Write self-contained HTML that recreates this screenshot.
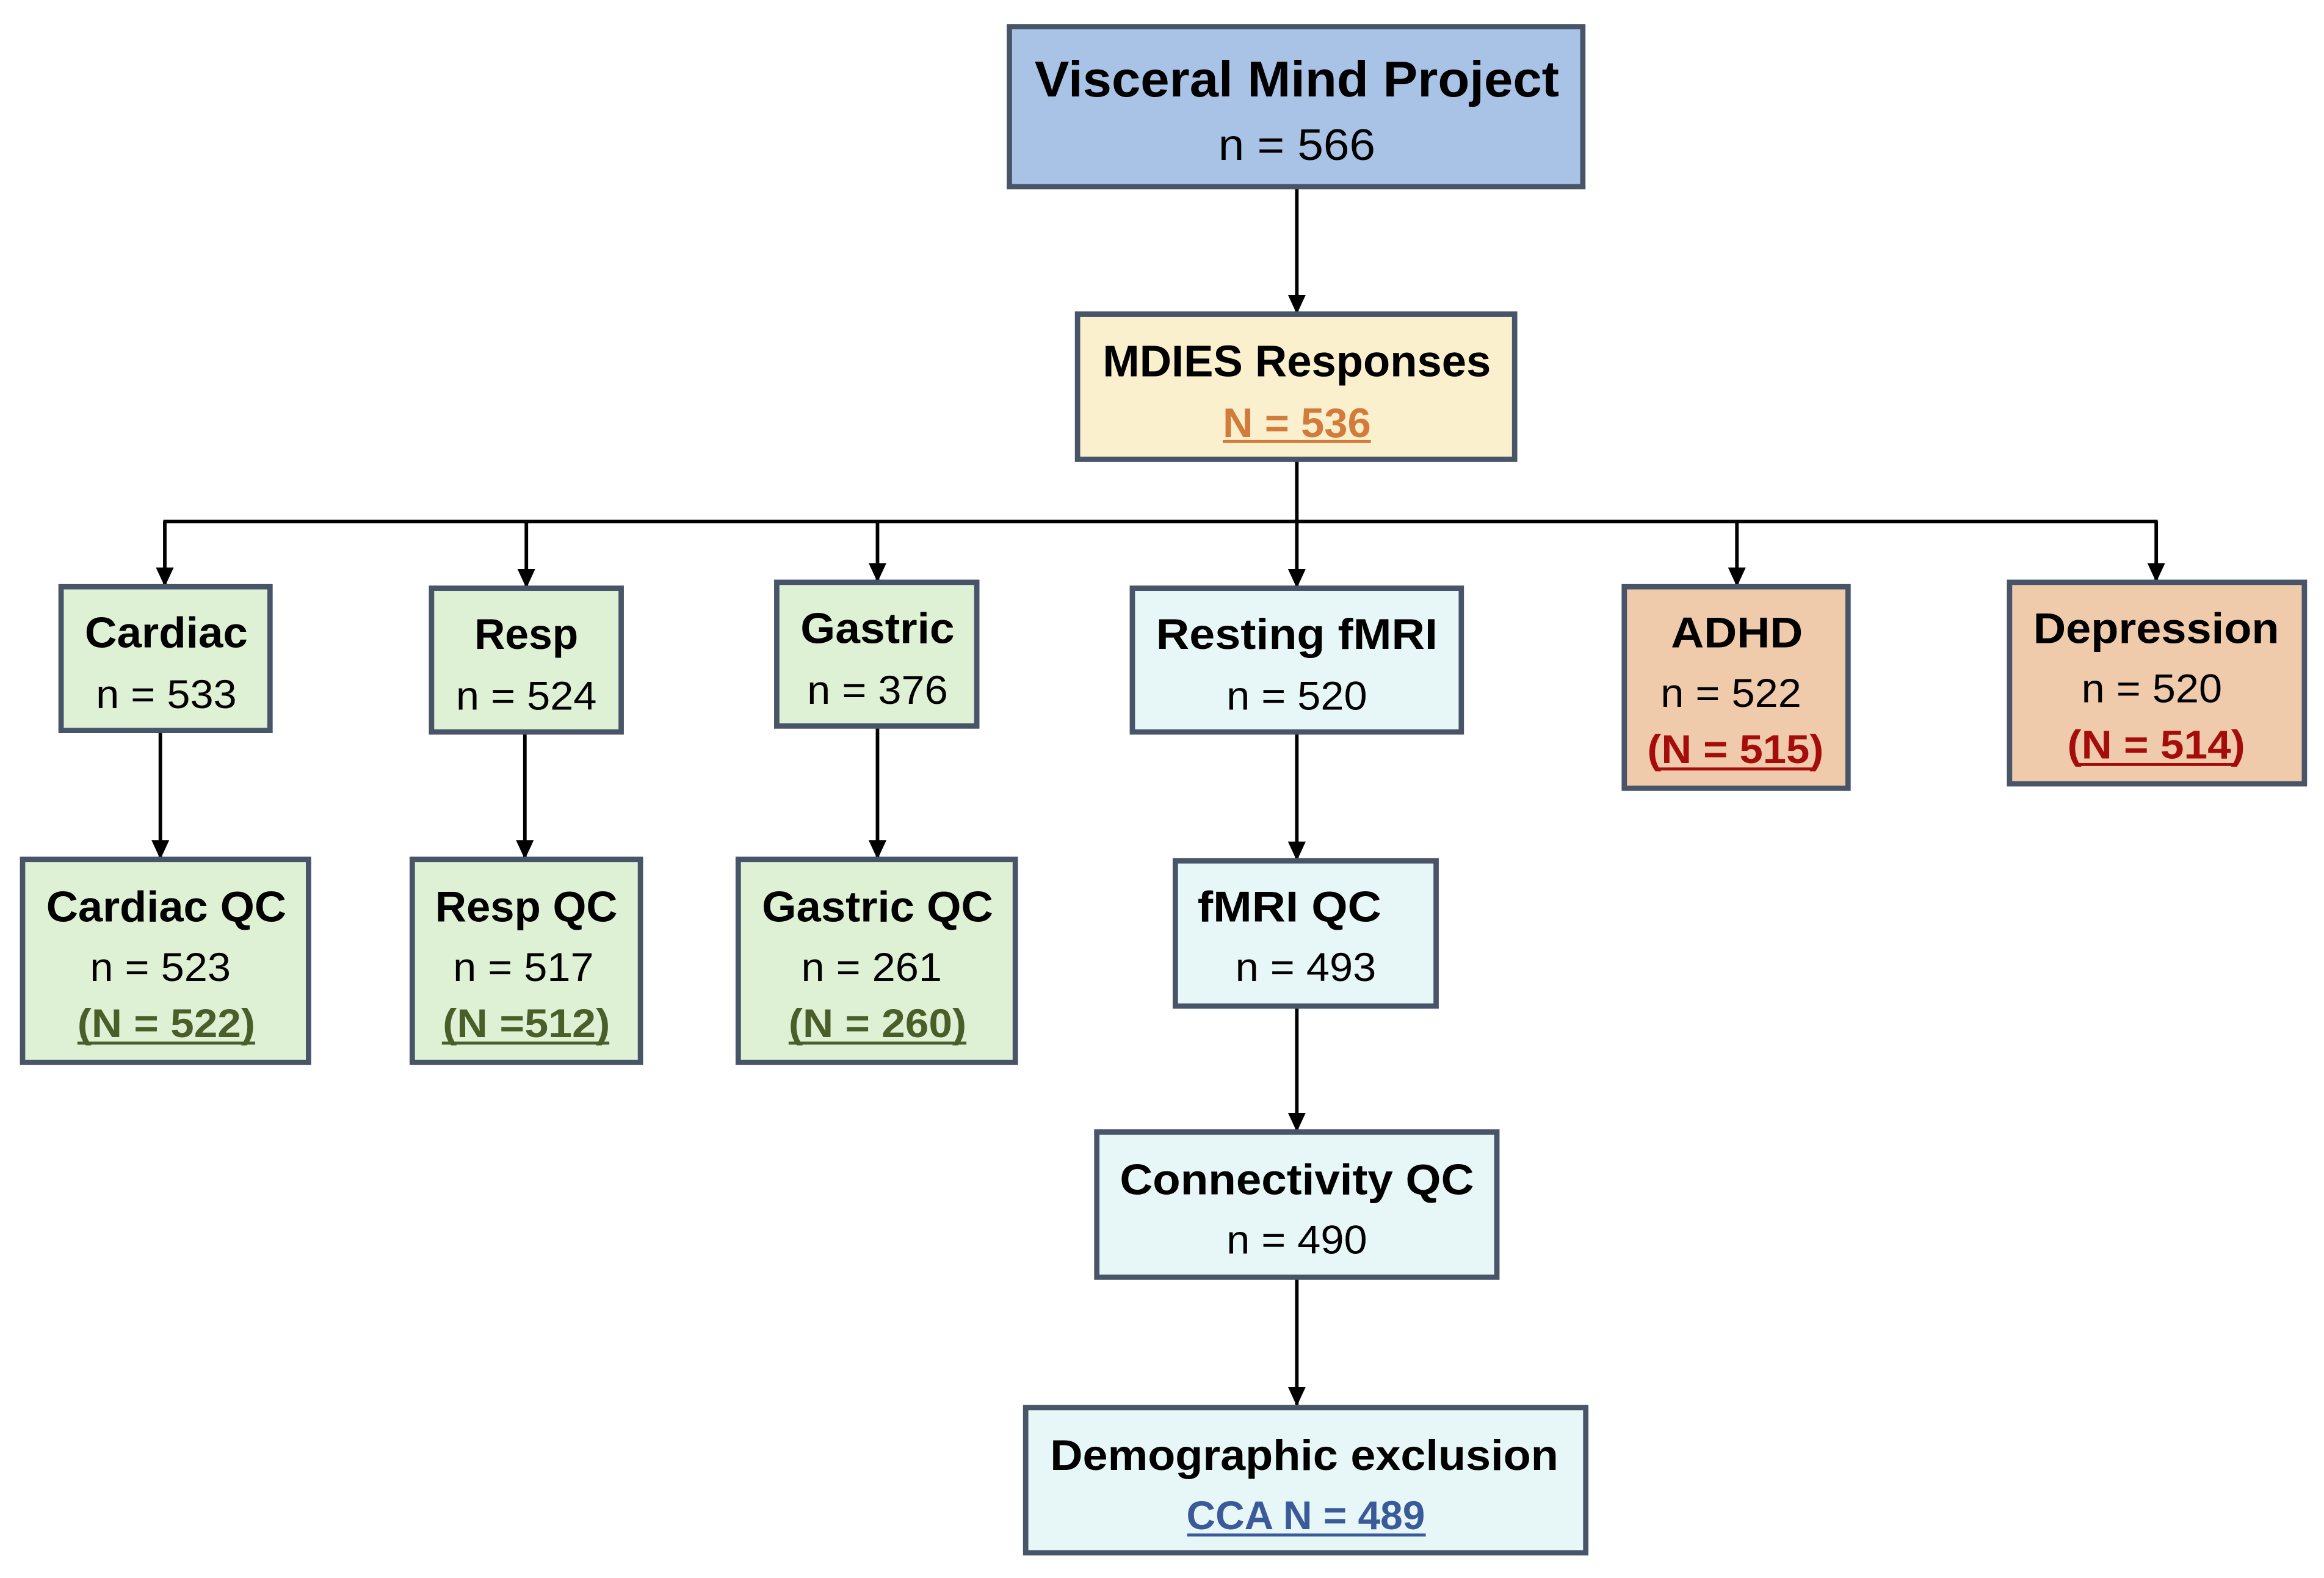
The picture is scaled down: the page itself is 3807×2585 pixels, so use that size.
<!DOCTYPE html>
<html><head><meta charset="utf-8"><style>
html,body{margin:0;padding:0;background:#fff}
svg{display:block}
text{font-family:"Liberation Sans",sans-serif;text-anchor:middle}
.b{font-weight:bold;fill:#000}
.n{fill:#000}
</style></head><body>
<svg width="3807" height="2585" viewBox="0 0 1568 1065" xmlns="http://www.w3.org/2000/svg">
<defs>
<marker id="a" markerWidth="13" markerHeight="12" refX="12" refY="6" orient="auto" markerUnits="userSpaceOnUse">
<path d="M0,0 L13,6 L0,12 Z" fill="#000"/>
</marker>
</defs>
<g stroke="#000" stroke-width="2.4" fill="none">
<line x1="875" y1="126" x2="875" y2="211" marker-end="url(#a)"/>
<polyline points="875,310 875,352"/>
<line x1="110" y1="352" x2="1456" y2="352"/>
<line x1="111" y1="352" x2="111" y2="395" marker-end="url(#a)"/>
<line x1="355" y1="352" x2="355" y2="396" marker-end="url(#a)"/>
<line x1="592" y1="352" x2="592" y2="392" marker-end="url(#a)"/>
<line x1="875" y1="352" x2="875" y2="396" marker-end="url(#a)"/>
<line x1="1172" y1="352" x2="1172" y2="395" marker-end="url(#a)"/>
<line x1="1455" y1="352" x2="1455" y2="392" marker-end="url(#a)"/>
<line x1="108" y1="493" x2="108" y2="579" marker-end="url(#a)"/>
<line x1="354" y1="494" x2="354" y2="579" marker-end="url(#a)"/>
<line x1="592" y1="490" x2="592" y2="579" marker-end="url(#a)"/>
<line x1="875" y1="494" x2="875" y2="580" marker-end="url(#a)"/>
<line x1="875" y1="679" x2="875" y2="763" marker-end="url(#a)"/>
<line x1="875" y1="862" x2="875" y2="948" marker-end="url(#a)"/>
</g>
<g stroke="#485468" stroke-width="3.6">
<rect x="681" y="18" width="387" height="108" fill="#a9c3e6"/>
<rect x="727" y="212" width="295" height="98" fill="#faf0cd"/>
<rect x="41" y="396" width="141" height="97" fill="#dff1d4"/>
<rect x="291" y="397" width="128" height="97" fill="#dff1d4"/>
<rect x="524" y="393" width="135" height="97" fill="#dff1d4"/>
<rect x="764" y="397" width="222" height="97" fill="#e7f6f6"/>
<rect x="1096" y="396" width="151" height="136" fill="#efcbab"/>
<rect x="1356" y="393" width="199" height="136" fill="#efcbab"/>
<rect x="15" y="580" width="193" height="137" fill="#dff1d4"/>
<rect x="278" y="580" width="154" height="137" fill="#dff1d4"/>
<rect x="498" y="580" width="187" height="137" fill="#dff1d4"/>
<rect x="793" y="581" width="176" height="98" fill="#e7f6f6"/>
<rect x="740" y="764" width="270" height="98" fill="#e7f6f6"/>
<rect x="692" y="950" width="378" height="98" fill="#e7f6f6"/>
</g>
<text class="b" x="875" y="65" font-size="34" textLength="354" lengthAdjust="spacingAndGlyphs">Visceral Mind Project</text>
<text class="n" x="875" y="108" font-size="30" textLength="106" lengthAdjust="spacingAndGlyphs">n = 566</text>
<text class="b" x="875" y="254" font-size="30" textLength="262" lengthAdjust="spacingAndGlyphs">MDIES Responses</text>
<text x="875" y="295" font-size="28" font-weight="bold" fill="#d27b3b" textLength="100" lengthAdjust="spacingAndGlyphs">N = 536</text>
<line x1="825" y1="298" x2="925" y2="298" stroke="#d27b3b" stroke-width="2"/>

<text class="b" x="112" y="437" font-size="29" textLength="110" lengthAdjust="spacingAndGlyphs">Cardiac</text>
<text class="n" x="112" y="478" font-size="27" textLength="95" lengthAdjust="spacingAndGlyphs">n = 533</text>
<text class="b" x="355" y="438" font-size="29" textLength="70" lengthAdjust="spacingAndGlyphs">Resp</text>
<text class="n" x="355" y="479" font-size="27" textLength="95" lengthAdjust="spacingAndGlyphs">n = 524</text>
<text class="b" x="592" y="434" font-size="29" textLength="104" lengthAdjust="spacingAndGlyphs">Gastric</text>
<text class="n" x="592" y="475" font-size="27" textLength="95" lengthAdjust="spacingAndGlyphs">n = 376</text>
<text class="b" x="875" y="438" font-size="29" textLength="190" lengthAdjust="spacingAndGlyphs">Resting fMRI</text>
<text class="n" x="875" y="479" font-size="27" textLength="95" lengthAdjust="spacingAndGlyphs">n = 520</text>
<text class="b" x="1172" y="437" font-size="29" textLength="89" lengthAdjust="spacingAndGlyphs">ADHD</text>
<text class="n" x="1168" y="477" font-size="27" textLength="95" lengthAdjust="spacingAndGlyphs">n = 522</text>
<text x="1171" y="515" font-size="27" font-weight="bold" fill="#a50d0d" textLength="119" lengthAdjust="spacingAndGlyphs">(N = 515)</text>
<line x1="1118" y1="519" x2="1225" y2="519" stroke="#a50d0d" stroke-width="2"/>
<text class="b" x="1455" y="434" font-size="29" textLength="166" lengthAdjust="spacingAndGlyphs">Depression</text>
<text class="n" x="1452" y="474" font-size="27" textLength="95" lengthAdjust="spacingAndGlyphs">n = 520</text>
<text x="1455" y="512" font-size="27" font-weight="bold" fill="#a50d0d" textLength="120" lengthAdjust="spacingAndGlyphs">(N = 514)</text>
<line x1="1401" y1="516" x2="1509" y2="516" stroke="#a50d0d" stroke-width="2"/>

<text class="b" x="112" y="622" font-size="29" textLength="162" lengthAdjust="spacingAndGlyphs">Cardiac QC</text>
<text class="n" x="108" y="662" font-size="27" textLength="95" lengthAdjust="spacingAndGlyphs">n = 523</text>
<text x="112" y="700" font-size="27" font-weight="bold" fill="#4a5e2a" textLength="120" lengthAdjust="spacingAndGlyphs">(N = 522)</text>
<line x1="52" y1="704" x2="172" y2="704" stroke="#4a5e2a" stroke-width="2"/>
<text class="b" x="355" y="622" font-size="29" textLength="123" lengthAdjust="spacingAndGlyphs">Resp QC</text>
<text class="n" x="353" y="662" font-size="27" textLength="95" lengthAdjust="spacingAndGlyphs">n = 517</text>
<text x="355" y="700" font-size="27" font-weight="bold" fill="#4a5e2a" textLength="113" lengthAdjust="spacingAndGlyphs">(N =512)</text>
<line x1="298" y1="704" x2="411" y2="704" stroke="#4a5e2a" stroke-width="2"/>
<text class="b" x="592" y="622" font-size="29" textLength="156" lengthAdjust="spacingAndGlyphs">Gastric QC</text>
<text class="n" x="588" y="662" font-size="27" textLength="95" lengthAdjust="spacingAndGlyphs">n = 261</text>
<text x="592" y="700" font-size="27" font-weight="bold" fill="#4a5e2a" textLength="120" lengthAdjust="spacingAndGlyphs">(N = 260)</text>
<line x1="532" y1="704" x2="652" y2="704" stroke="#4a5e2a" stroke-width="2"/>

<text class="b" x="870" y="622" font-size="29" textLength="124" lengthAdjust="spacingAndGlyphs">fMRI QC</text>
<text class="n" x="881" y="662" font-size="27" textLength="95" lengthAdjust="spacingAndGlyphs">n = 493</text>
<text class="b" x="875" y="806" font-size="29" textLength="239" lengthAdjust="spacingAndGlyphs">Connectivity QC</text>
<text class="n" x="875" y="846" font-size="27" textLength="95" lengthAdjust="spacingAndGlyphs">n = 490</text>
<text class="b" x="880" y="992" font-size="29" textLength="343" lengthAdjust="spacingAndGlyphs">Demographic exclusion</text>
<text x="881" y="1032" font-size="27" font-weight="bold" fill="#3a5a9a" textLength="161" lengthAdjust="spacingAndGlyphs">CCA N = 489</text>
<line x1="801" y1="1036" x2="962" y2="1036" stroke="#3a5a9a" stroke-width="2"/>
</svg>
</body></html>
